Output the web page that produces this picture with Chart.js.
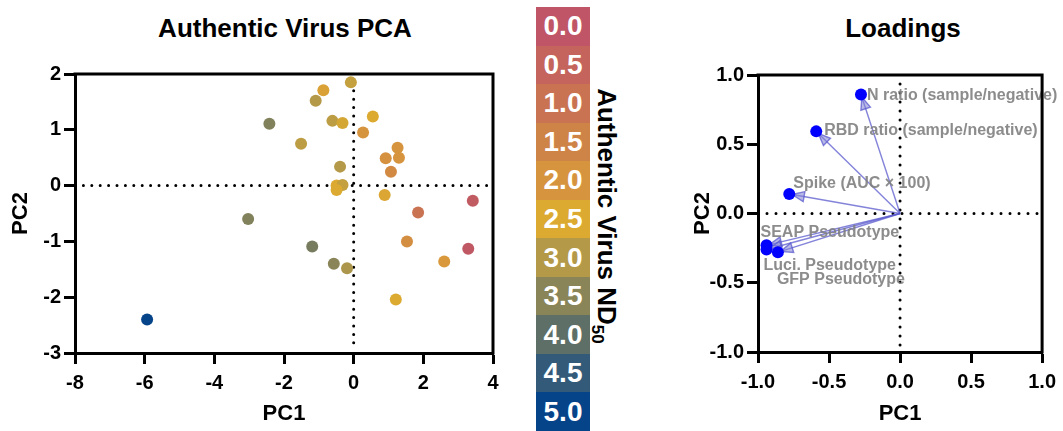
<!DOCTYPE html>
<html>
<head>
<meta charset="utf-8">
<script src="https://cdn.jsdelivr.net/npm/chart.js@4.4.1/dist/chart.umd.min.js"></script>
<style>
  body { margin:0; width:1063px; height:431px; overflow:hidden; background:#fff; position:relative;
         font-family: Arial, 'Liberation Sans', sans-serif; }
  .title { position:absolute; top:13px; font-size:26px; font-weight:bold; line-height:30px; text-align:center; color:#000; }
  #pcaWrap { position:absolute; left:0; top:0; width:510px; height:431px; }
  #loadWrap { position:absolute; left:660px; top:0; width:403px; height:431px; }
  #bar { position:absolute; left:536px; top:7px; width:54px; height:424px; display:flex; flex-direction:column; }
  #bar div { flex:1; display:flex; align-items:center; justify-content:center; color:#fff;
             font-size:28px; font-weight:bold; }
  #barTitle { position:absolute; left:457px; top:201px; width:300px; height:30px; line-height:30px;
              text-align:center; font-size:26px; font-weight:bold; transform:rotate(90deg); white-space:nowrap; }
  #barTitle sub { font-size:17px; vertical-align:-6px; }
</style>
</head>
<body>
<div class="title" style="left:0;width:570px">Authentic Virus PCA</div>
<div class="title" style="left:741px;width:324px">Loadings</div>
<div id="pcaWrap"><canvas id="pca"></canvas></div>
<div id="bar"></div>
<div id="barTitle">Authentic Virus ND<sub>50</sub></div>
<div id="loadWrap"><canvas id="load"></canvas></div>
<script>
// ── PCA scores ──
const pc1  = [-0.08,-0.87,-1.09,-2.42,-0.61,-0.32,0.55,0.27,-1.51,1.26,0.92,1.30,1.07,-0.39,-0.49,-0.32,-0.49,0.89,3.42,1.85,-3.03,-1.19,1.53,3.29,-0.57,-0.19,2.60,1.21,-5.93];
const pc2  = [1.85,1.71,1.52,1.11,1.16,1.12,1.24,0.95,0.75,0.68,0.49,0.50,0.25,0.34,0.00,0.01,-0.08,-0.17,-0.27,-0.48,-0.60,-1.09,-1.00,-1.13,-1.40,-1.48,-1.36,-2.04,-2.40];
const nd50 = [2.8,2.3,3.0,3.6,2.9,2.6,2.5,2.0,2.9,2.0,1.9,2.0,1.7,3.0,2.5,2.8,2.5,2.4,0.2,1.0,3.6,3.7,1.8,0.1,3.5,3.1,2.1,2.5,5.0];

// ── colour scale ──
const scaleSteps  = [0.0,0.5,1.0,1.5,2.0,2.5,3.0,3.5,4.0,4.5,5.0];
const scaleColors = ['#bf5566','#c4645c','#c97352','#cf8447','#d7943e','#dcaa30','#b49a48','#8a8558','#5d6f66','#335a78','#064489'];

// ── loadings ──
const loadNames = ['N ratio (sample/negative)','RBD ratio (sample/negative)','Spike (AUC \u00d7 100)','SEAP Pseudotype','Luci. Pseudotype','GFP Pseudotype'];
const loadPC1   = [-0.275,-0.59,-0.78,-0.94,-0.94,-0.86];
const loadPC2   = [0.86,0.593,0.141,-0.23,-0.26,-0.28];

// label offsets in px from each loading point (style, not data)
const labelOffset = [[6,1],[8,-1],[4,-10],[-6,-13],[-3,16],[-1,27]];

function hex2rgb(h) { return [1,3,5].map(i => parseInt(h.slice(i,i+2),16)); }
function colorFor(v) {
  const t = Math.max(0, Math.min(scaleSteps.length-1, v / 0.5));
  const i = Math.min(Math.floor(t), scaleSteps.length-2), f = t - i;
  const a = hex2rgb(scaleColors[i]), b = hex2rgb(scaleColors[i+1]);
  const c = a.map((x,k) => Math.round(x + (b[k]-x)*f));
  return `rgb(${c[0]},${c[1]},${c[2]})`;
}

// colour bar
const bar = document.getElementById('bar');
scaleSteps.forEach((s,i) => {
  const d = document.createElement('div');
  d.style.background = scaleColors[i];
  d.textContent = s.toFixed(1);
  bar.appendChild(d);
});

Chart.defaults.font.family = "Arial, 'Liberation Sans', sans-serif";
Chart.defaults.color = '#000';

// dotted zero lines + closed frame
const frameZero = {
  id: 'frameZero',
  beforeDatasetsDraw(chart, args, opts) {
    const { ctx, chartArea: a, scales: { x, y } } = chart;
    const x0 = x.getPixelForValue(0), y0 = y.getPixelForValue(0);
    ctx.save();
    ctx.strokeStyle = '#000'; ctx.lineWidth = 3; ctx.lineCap = 'round';
    ctx.setLineDash([0, opts.gap]);
    ctx.beginPath();
    ctx.moveTo(a.left + opts.gap, y0); ctx.lineTo(a.right - 2, y0);
    ctx.moveTo(x0, a.top + opts.gap); ctx.lineTo(x0, a.bottom - 2);
    ctx.stroke();
    ctx.restore();
  },
  afterDraw(chart) {
    const { ctx, chartArea: a } = chart;
    ctx.save();
    ctx.strokeStyle = '#000'; ctx.lineWidth = 3;
    ctx.beginPath();
    ctx.moveTo(a.left - 1.5, a.top); ctx.lineTo(a.right, a.top); ctx.lineTo(a.right, a.bottom + 1.5);
    ctx.stroke();
    ctx.restore();
  }
};

function axis(min, max, step, width, height, side, tickFmt, title, titlePad) {
  const o = {
    type: 'linear', min, max,
    ticks: { stepSize: step, padding: side === 'x' ? 7 : 3, font: { size: 20, weight: 'bold' },
             callback: tickFmt },
    grid: { drawOnChartArea: false, drawTicks: true, tickLength: 11, tickWidth: 3, color: '#000', tickColor: '#000' },
    border: { display: true, color: '#000', width: 3 },
    title: { display: true, text: title, font: { size: 22, weight: 'bold' }, padding: titlePad },
    afterFit(s) { if (side === 'x') s.height = height; else s.width = width; }
  };
  return o;
}

new Chart(document.getElementById('pca'), {
  type: 'scatter',
  data: {
    datasets: [{
      data: pc1.map((x,i) => ({ x, y: pc2[i] })),
      pointBackgroundColor: nd50.map(colorFor),
      pointBorderWidth: 0,
      pointRadius: 6
    }]
  },
  options: {
    responsive: true, maintainAspectRatio: false, animation: false,
    layout: { padding: { top: 74, right: 17, left: 0, bottom: 0 } },
    plugins: { legend: { display: false }, tooltip: { enabled: false }, frameZero: { gap: 8.4 } },
    scales: {
      x: axis(-8, 4, 2, 0, 78, 'x', v => String(v), 'PC1', { top: 0, bottom: 4 }),
      y: axis(-3, 2, 1, 75, 0, 'y', v => String(v), 'PC2', { top: 8, bottom: 0 })
    }
  },
  plugins: [frameZero]
});

// arrows and labels for the loadings plot
const arrows = {
  id: 'arrows',
  beforeDatasetsDraw(chart) {
    const { ctx, scales: { x, y } } = chart;
    const ox = x.getPixelForValue(0), oy = y.getPixelForValue(0);
    ctx.save();
    loadPC1.forEach((v,i) => {
      const px = x.getPixelForValue(v), py = y.getPixelForValue(loadPC2[i]);
      const ang = Math.atan2(py - oy, px - ox);
      const tx = px - Math.cos(ang) * 3, ty = py - Math.sin(ang) * 3;
      ctx.strokeStyle = 'rgba(90,90,205,0.75)'; ctx.lineWidth = 1.4;
      ctx.beginPath(); ctx.moveTo(ox, oy); ctx.lineTo(tx, ty); ctx.stroke();
      const L = 12, W = 5;
      const bx = tx - Math.cos(ang) * L, by = ty - Math.sin(ang) * L;
      ctx.fillStyle = 'rgba(130,130,215,0.55)';
      ctx.beginPath();
      ctx.moveTo(tx, ty);
      ctx.lineTo(bx - Math.sin(ang) * W, by + Math.cos(ang) * W);
      ctx.lineTo(bx + Math.sin(ang) * W, by - Math.cos(ang) * W);
      ctx.closePath(); ctx.fill(); ctx.stroke();
    });
    ctx.restore();
  },
  afterDatasetsDraw(chart) {
    const { ctx, scales: { x, y } } = chart;
    ctx.save();
    ctx.font = "bold 16px Arial, 'Liberation Sans', sans-serif";
    ctx.fillStyle = 'rgba(128,128,128,0.9)';
    ctx.textBaseline = 'middle'; ctx.textAlign = 'left';
    loadNames.forEach((n,i) => {
      const px = x.getPixelForValue(loadPC1[i]), py = y.getPixelForValue(loadPC2[i]);
      ctx.fillText(n, px + labelOffset[i][0], py + labelOffset[i][1]);
    });
    ctx.restore();
  }
};

new Chart(document.getElementById('load'), {
  type: 'scatter',
  data: {
    datasets: [{
      data: loadPC1.map((x,i) => ({ x, y: loadPC2[i] })),
      pointBackgroundColor: '#0000ff',
      pointBorderWidth: 0,
      pointRadius: 6
    }]
  },
  options: {
    responsive: true, maintainAspectRatio: false, animation: false,
    layout: { padding: { top: 75, right: 19, left: 0, bottom: 0 } },
    plugins: { legend: { display: false }, tooltip: { enabled: false }, frameZero: { gap: 9 } },
    scales: {
      x: axis(-1, 1, 0.5, 0, 79, 'x', v => v.toFixed(1), 'PC1', { top: 0, bottom: 4 }),
      y: axis(-1, 1, 0.5, 98, 0, 'y', v => v.toFixed(1), 'PC2', { top: 30, bottom: 0 })
    }
  },
  plugins: [frameZero, arrows]
});
</script>
</body>
</html>
